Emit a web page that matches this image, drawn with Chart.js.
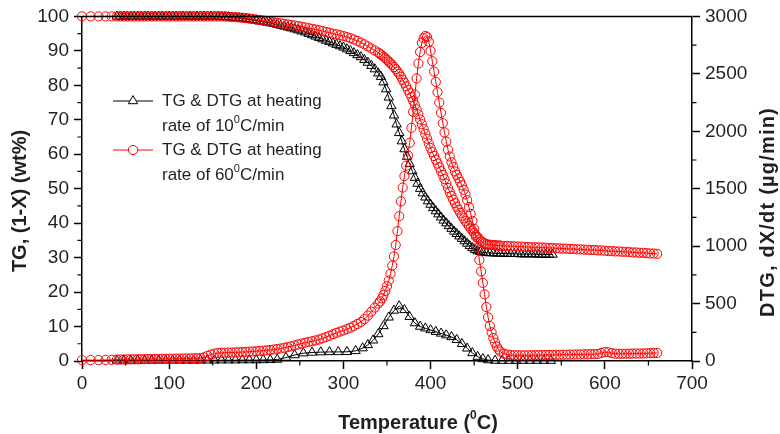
<!DOCTYPE html>
<html>
<head>
<meta charset="utf-8">
<script src="https://cdn.jsdelivr.net/npm/chart.js@4.4.1/dist/chart.umd.min.js"></script>
<style>
  html, body { margin: 0; padding: 0; background: #fff; }
  #wrap { width: 780px; height: 434px; }
</style>
</head>
<body>
<div id="wrap"><canvas id="tga"></canvas></div>
<script>
// TGA / DTG of the sample at two heating rates

// 60 C/min run: temperature (C), TG (wt%), DTG (ug/min)
const redTemp = [
  0, 10, 19, 27, 34,
  40, 44, 48, 52, 56, 60, 64, 68, 72, 76,
  80, 84, 88, 92, 96, 100, 104, 108, 112, 116,
  120, 124, 128, 132, 136, 140, 144, 148, 152, 156,
  160, 164, 168, 172, 176, 180, 184, 188, 192, 196,
  200, 204, 208, 212, 216, 220, 224, 228, 232, 236,
  240, 244, 248, 252, 256, 260, 264, 268, 272, 276,
  280, 284, 288, 292, 296, 300, 304, 308, 312, 316,
  320, 324, 328, 332, 336,
  340, 342, 344, 346, 348, 350, 352, 354, 356, 358,
  360, 362, 364, 366, 368, 370, 372, 374, 376, 378,
  380, 382, 384, 386, 388, 390, 392, 394, 396, 398,
  400, 402, 404, 406, 408, 410, 412, 414, 416, 418,
  420, 422, 424, 426, 428, 430, 432, 434, 436, 438,
  440, 442, 444, 446, 448, 450, 452, 454, 456, 458,
  460, 462, 464, 466, 468, 470, 472, 474, 476, 478,
  480,
  484, 488, 492, 496, 500, 504, 508, 512, 516, 520,
  524, 528, 532, 536, 540, 544, 548, 552, 556, 560,
  564, 568, 572, 576, 580, 584, 588, 592, 596, 600,
  604, 608, 612, 616, 620, 624, 628, 632, 636, 640,
  644, 648, 652, 656, 660
];
const redTG = [
  100, 100, 100, 100, 100,
  100, 100, 100, 100, 100, 100, 100, 100, 100, 100,
  100, 100, 100, 100, 100, 100, 100, 100, 100, 100,
  100, 100, 100, 100, 100, 100, 100, 100, 100, 100,
  100, 99.95, 99.9, 99.85, 99.8, 99.7, 99.6, 99.5, 99.4, 99.25,
  99.1, 98.95, 98.8, 98.65, 98.5, 98.3, 98.15, 98.0, 97.85, 97.7,
  97.5, 97.35, 97.2, 97.0, 96.8, 96.6, 96.4, 96.2, 96.0, 95.75,
  95.5, 95.25, 95.0, 94.8, 94.55, 94.3, 94.0, 93.7, 93.3, 92.9,
  92.4, 91.9, 91.3, 90.7, 90.1,
  89.5, 89.1, 88.7, 88.3, 87.9, 87.4, 86.9, 86.4, 85.9, 85.3,
  84.7, 84.0, 83.3, 82.5, 81.6, 80.7, 79.7, 78.7, 77.7, 76.6,
  75.5, 74.3, 73.0, 71.6, 70.1, 68.7, 67.3, 65.9, 64.5, 63.1,
  61.8, 60.6, 59.5, 58.4, 57.3, 56.2, 55.1, 54.0, 52.8, 51.5,
  50.2, 49.0, 47.9, 46.8, 45.8, 44.8, 43.9, 43.0, 42.2, 41.4,
  40.6, 39.9, 39.2, 38.5, 37.8, 37.1, 36.5, 35.9, 35.3, 34.8,
  34.4, 34.1, 33.9, 33.8, 33.7, 33.7, 33.6, 33.6, 33.5, 33.5,
  33.5,
  33.4, 33.4, 33.3, 33.3, 33.2, 33.2, 33.1, 33.1, 33.0, 33.0,
  33.0, 32.9, 32.9, 32.8, 32.8, 32.7, 32.7, 32.6, 32.6, 32.5,
  32.5, 32.4, 32.4, 32.3, 32.3, 32.2, 32.2, 32.1, 32.1, 32.0,
  31.9, 31.9, 31.8, 31.8, 31.7, 31.7, 31.6, 31.5, 31.5, 31.4,
  31.4, 31.3, 31.2, 31.2, 31.1
];
const redDTG = [
  8, 8, 8, 9, 10,
  12, 13, 13, 14, 14, 15, 15, 16, 16, 17,
  17, 18, 18, 19, 19, 20, 20, 21, 21, 22,
  22, 23, 23, 24, 26, 32, 45, 57, 65, 69,
  71, 72, 73, 74, 75, 76, 78, 79, 81, 83,
  85, 87, 90, 93, 96, 100, 104, 109, 115, 121,
  128, 136, 144, 152, 159, 166, 172, 179, 187, 197,
  208, 220, 233, 245, 256, 266, 278, 290, 305, 322,
  340, 365, 395, 430, 465,
  500, 520, 545, 575, 610, 650, 700, 760, 830, 910,
  1010, 1130, 1260, 1390, 1510, 1610, 1700, 1790, 1900, 2030,
  2170, 2320, 2460, 2590, 2690, 2770, 2810, 2830, 2820, 2780,
  2700, 2610, 2520, 2430, 2340, 2250, 2160, 2070, 1990, 1910,
  1840, 1780, 1730, 1690, 1650, 1620, 1590, 1560, 1530, 1490,
  1450, 1400, 1340, 1280, 1220, 1150, 1080, 990, 880, 780,
  680, 580, 470, 380, 305, 250, 200, 160, 125, 100,
  82,
  64, 56, 52, 50, 50, 49, 49, 50, 50, 51,
  51, 52, 52, 53, 53, 54, 54, 55, 55, 56,
  56, 57, 57, 58, 58, 59, 60, 62, 70, 78,
  76, 68, 64, 63, 63, 63, 64, 64, 65, 65,
  66, 67, 68, 69, 70
];

// 10 C/min run, TG curve
const blackTgTemp = [
  40, 44, 48, 52, 56, 60, 64, 68, 72, 76,
  80, 84, 88, 92, 96, 100, 104, 108, 112, 116,
  120, 124, 128, 132, 136, 140, 144, 148, 152, 156,
  160, 164, 168, 172, 176, 180, 184, 188, 192, 196,
  200, 204, 208, 212, 216, 220, 224, 228, 232, 236,
  240, 244, 248, 252, 256, 260, 264, 268, 272, 276,
  280, 284, 288, 292, 296, 300, 304, 308, 312, 316,
  320, 324, 328, 332, 336, 340,
  343, 346, 349, 352, 355, 358, 361, 364, 367, 370,
  373, 376, 379, 382, 385, 388, 391, 394, 397, 400,
  403, 406, 409, 412, 415, 418, 421, 424, 427, 430,
  433, 436, 439, 442, 445, 448, 451, 454, 457, 460,
  464, 468, 472, 476, 480, 484, 488, 492, 496, 500,
  504, 508, 512, 516, 520, 524, 528, 532, 536, 540
];
const blackTG = [
  100, 100, 100, 100, 100, 100, 100, 100, 100, 100,
  100, 100, 100, 100, 100, 100, 100, 100, 100, 100,
  100, 100, 100, 100, 100, 100, 100, 100, 100, 99.95,
  99.9, 99.85, 99.8, 99.7, 99.6, 99.5, 99.4, 99.25, 99.1, 98.95,
  98.8, 98.6, 98.45, 98.25, 98.05, 97.85, 97.6, 97.35, 97.1, 96.85,
  96.6, 96.3, 96.0, 95.7, 95.4, 95.0, 94.6, 94.2, 93.8, 93.4,
  93.0, 92.6, 92.2, 91.8, 91.4, 91.0, 90.5, 90.0, 89.4, 88.8,
  88.2, 87.4, 86.6, 85.7, 84.7, 83.5,
  82.5, 80.9, 78.9, 76.5, 74.0, 71.3, 68.7, 66.2, 63.8, 61.5,
  59.3, 57.2, 55.1, 53.2, 51.5, 50.0, 48.7, 47.5, 46.4, 45.4,
  44.4, 43.5, 42.6, 41.7, 40.8, 40.0, 39.2, 38.4, 37.6, 36.9,
  36.2, 35.5, 34.8, 34.1, 33.4, 32.8, 32.3, 31.9, 31.7, 31.5,
  31.4, 31.3, 31.3, 31.2, 31.2, 31.2, 31.1, 31.1, 31.1, 31.1,
  31.0, 31.0, 31.0, 31.0, 31.0, 30.9, 30.9, 30.9, 30.9, 30.9
];

// 10 C/min run, DTG curve (fewer markers)
const blackDtgTemp = [
  40, 48, 56, 64, 72, 80, 88, 96, 104, 112, 120, 128,
  136, 144, 152, 160, 168, 176, 184, 192, 200, 208, 216, 224,
  234, 244, 254, 264, 274, 284, 294, 304, 314,
  322, 328, 334, 340, 346, 352, 358, 364, 370, 376, 382, 388,
  394, 400, 406, 412, 418, 424, 430, 436, 442, 448, 454, 460, 466,
  474, 482, 490, 498, 506, 514, 522, 530, 538
];
const blackDTG = [
  5, 5, 5, 5, 5, 5, 5, 5, 5, 5, 5, 5,
  5, 6, 6, 7, 7, 7, 8, 8, 8, 9, 10, 13,
  30, 52, 68, 74, 77, 79, 79, 80, 88,
  112, 140, 180, 235, 305, 380, 440, 478, 445, 385, 330, 300,
  285, 270, 255, 240, 225, 210, 185, 150, 110, 70, 38, 18, 8,
  4, 3, 3, 3, 3, 3, 3, 3, 3
];

const legendLabels = [
  ['TG & DTG at heating', 'rate of 10', 'C/min'],
  ['TG & DTG at heating', 'rate of 60', 'C/min']
];

const RED = '#ff0000';
const INK = '#231f20';
const FONT = '"Liberation Sans", Arial, sans-serif';
const CIRCLE_R = 4.6;
const TRI_R = 5.4;

Chart.defaults.font.family = FONT;
Chart.defaults.color = INK;

const pts = (xs, ys) => xs.map((x, i) => ({ x, y: ys[i] }));

function series(data, color, style, radius, axis) {
  return {
    data,
    yAxisID: axis,
    borderColor: color,
    borderWidth: 1,
    pointStyle: style,
    pointRadius: radius,
    pointBorderColor: color,
    pointBorderWidth: 1,
    pointBackgroundColor: 'rgba(255,255,255,0)',
    tension: 0,
    clip: false,
  };
}

function marker(ctx, style, x, y, r, color) {
  ctx.beginPath();
  if (style === 'triangle') {
    for (let k = 0; k < 3; k++) {
      const a = -Math.PI / 2 + k * 2 * Math.PI / 3;
      const px = x + r * Math.cos(a), py = y + r * Math.sin(a);
      k ? ctx.lineTo(px, py) : ctx.moveTo(px, py);
    }
    ctx.closePath();
  } else {
    ctx.arc(x, y, r, 0, 2 * Math.PI);
  }
  ctx.fillStyle = '#fff';
  ctx.fill();
  ctx.strokeStyle = color;
  ctx.lineWidth = 1;
  ctx.stroke();
}

// text with a raised "0" (degree written as superscript zero)
function supText(ctx, before, after, x, y, size, weight, align) {
  const main = `${weight} ${size}px ${FONT}`;
  const small = `${weight} ${Math.round(size * 0.62)}px ${FONT}`;
  ctx.font = main;
  const w1 = ctx.measureText(before).width;
  const w3 = ctx.measureText(after).width;
  ctx.font = small;
  const w2 = ctx.measureText('0').width;
  let cx = align === 'center' ? x - (w1 + w2 + w3) / 2 : x;
  ctx.font = main;
  ctx.fillText(before, cx, y);
  cx += w1;
  ctx.font = small;
  ctx.fillText('0', cx, y - size * 0.36);
  cx += w2;
  ctx.font = main;
  ctx.fillText(after, cx, y);
}

const extras = {
  id: 'extras',
  afterDraw(chart) {
    const { ctx, chartArea: a, scales } = chart;
    ctx.save();

    // top frame line
    ctx.strokeStyle = '#000';
    ctx.lineWidth = 1.5;
    ctx.beginPath();
    ctx.moveTo(a.left, a.top);
    ctx.lineTo(a.right, a.top);
    ctx.stroke();

    // minor ticks half way between the major ones
    ctx.lineWidth = 1.2;
    ctx.beginPath();
    const mids = s => s.ticks.slice(1).map((t, i) => (t.value + s.ticks[i].value) / 2);
    mids(scales.x).forEach(v => {
      const p = scales.x.getPixelForValue(v);
      ctx.moveTo(p, a.bottom); ctx.lineTo(p, a.bottom + 4.5);
    });
    mids(scales.y).forEach(v => {
      const p = scales.y.getPixelForValue(v);
      ctx.moveTo(a.left, p); ctx.lineTo(a.left - 4.5, p);
    });
    mids(scales.y2).forEach(v => {
      const p = scales.y2.getPixelForValue(v);
      ctx.moveTo(a.right, p); ctx.lineTo(a.right + 4.5, p);
    });
    ctx.stroke();

    // axis titles
    ctx.fillStyle = INK;
    ctx.textBaseline = 'middle';
    ctx.textAlign = 'left';
    supText(ctx, 'Temperature (', 'C)', 418, 423, 20, 'bold', 'center');

    ctx.save();
    ctx.translate(20, 201);
    ctx.rotate(-Math.PI / 2);
    ctx.font = `bold 20px ${FONT}`;
    ctx.textAlign = 'center';
    ctx.fillText('TG, (1-X) (wt%)', 0, 0);
    ctx.restore();

    ctx.save();
    ctx.translate(768, 212);
    ctx.rotate(-Math.PI / 2);
    ctx.font = `bold 20px ${FONT}`;
    ctx.letterSpacing = '1.2px';
    ctx.textAlign = 'center';
    ctx.fillText('DTG, dX/dt (\u00b5g/min)', 0, 0);
    ctx.restore();

    // legend
    const rows = [
      { y: 101, color: '#000', style: 'triangle', r: TRI_R },
      { y: 150, color: RED, style: 'circle', r: CIRCLE_R },
    ];
    rows.forEach((row, i) => {
      ctx.strokeStyle = row.color;
      ctx.lineWidth = 1;
      ctx.beginPath();
      ctx.moveTo(113, row.y);
      ctx.lineTo(153, row.y);
      ctx.stroke();
      marker(ctx, row.style, 133, row.y, row.r, row.color);
      ctx.fillStyle = INK;
      ctx.textAlign = 'left';
      ctx.font = `17px ${FONT}`;
      ctx.fillText(legendLabels[i][0], 162, row.y);
      supText(ctx, legendLabels[i][1], legendLabels[i][2], 162, row.y + 25, 17, 'normal', 'left');
    });

    ctx.restore();
  }
};

const axisLook = (pos) => ({
  grid: { drawOnChartArea: false, tickLength: 8, tickColor: '#000', tickWidth: 1.5 },
  border: { color: '#000', width: 1.5 },
  ticks: {
    font: { size: 19 },
    color: INK,
    padding: pos === 'x' ? 3 : 5,
    callback: v => String(v),
  },
});

new Chart(document.getElementById('tga'), {
  type: 'line',
  data: {
    datasets: [
      series(pts(redTemp, redTG), RED, 'circle', CIRCLE_R, 'y'),
      series(pts(redTemp, redDTG), RED, 'circle', CIRCLE_R, 'y2'),
      series(pts(blackTgTemp, blackTG), '#000', 'triangle', TRI_R, 'y'),
      series(pts(blackDtgTemp, blackDTG), '#000', 'triangle', TRI_R, 'y2'),
    ],
  },
  options: {
    responsive: true,
    maintainAspectRatio: false,
    animation: false,
    devicePixelRatio: 1,
    layout: { padding: { top: 16 } },
    plugins: { legend: { display: false }, tooltip: { enabled: false } },
    scales: {
      x: {
        type: 'linear', min: 0, max: 700,
        ...axisLook('x'),
        ticks: { ...axisLook('x').ticks, stepSize: 100 },
        afterFit: s => { s.height = 73; },
      },
      y: {
        position: 'left', min: 0, max: 100,
        ...axisLook('y'),
        ticks: { ...axisLook('y').ticks, stepSize: 10 },
        afterFit: s => { s.width = 82; },
      },
      y2: {
        position: 'right', min: 0, max: 3000,
        ...axisLook('y2'),
        ticks: { ...axisLook('y2').ticks, stepSize: 500 },
        afterFit: s => { s.width = 88; },
      },
    },
  },
  plugins: [extras],
});
</script>
</body>
</html>
